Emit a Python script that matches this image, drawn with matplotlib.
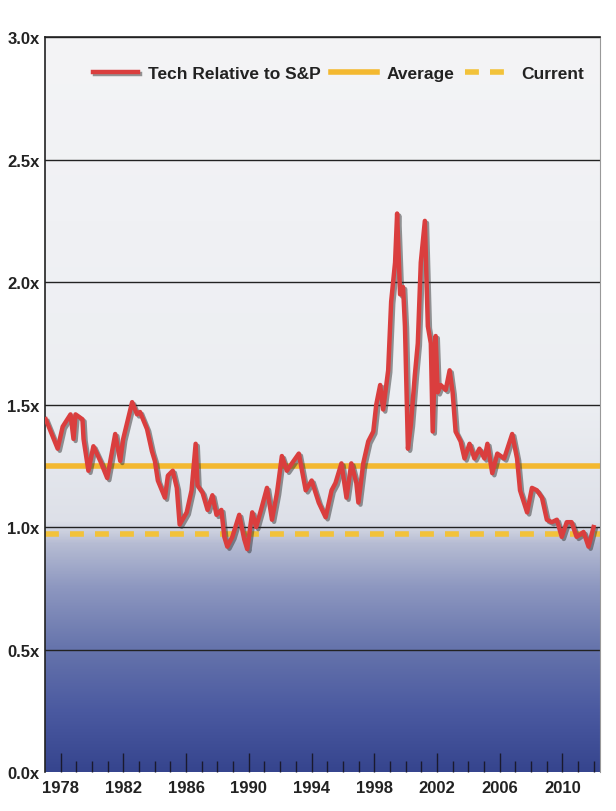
import numpy as np
import matplotlib
matplotlib.use("Agg")
import matplotlib.pyplot as plt
import matplotlib.patheffects as pe
from matplotlib.colors import LinearSegmentedColormap

# tech sector relative to S&P 500
years = [1977.05, 1977.81, 1978.13, 1978.63, 1978.82, 1978.95, 1979.39, 1979.46, 1979.77, 1980.09,
         1980.53, 1980.97, 1981.48, 1981.80, 1981.99, 1982.56, 1982.87, 1983.06, 1983.51, 1983.82,
         1984.01, 1984.20, 1984.65, 1984.84, 1985.15, 1985.41, 1985.59, 1986.04, 1986.35, 1986.61,
         1986.73, 1987.05, 1987.37, 1987.68, 1987.94, 1988.25, 1988.44, 1988.63, 1988.95, 1989.39,
         1989.71, 1989.90, 1990.22, 1990.47, 1990.78, 1991.16, 1991.48, 1991.80, 1992.11, 1992.43,
         1992.75, 1993.19, 1993.63, 1994.01, 1994.46, 1994.90, 1995.28, 1995.53, 1995.91, 1996.23,
         1996.54, 1996.86, 1996.99, 1997.30, 1997.62, 1997.94, 1998.13, 1998.38, 1998.57, 1998.89,
         1999.08, 1999.33, 1999.46, 1999.65, 1999.84, 1999.96, 2000.15, 2000.34, 2000.59, 2000.78,
         2000.97, 2001.23, 2001.42, 2001.61, 2001.73, 2001.92, 2002.05, 2002.24, 2002.56, 2002.81,
         2003.00, 2003.19, 2003.51, 2003.76, 2004.08, 2004.39, 2004.71, 2005.03, 2005.22, 2005.53,
         2005.85, 2006.29, 2006.80, 2007.11, 2007.30, 2007.75, 2008.06, 2008.38, 2008.70, 2009.01,
         2009.33, 2009.65, 2009.96, 2010.28, 2010.59, 2010.91, 2011.35, 2011.67, 2011.99]
tech_rel = [1.44, 1.32, 1.41, 1.46, 1.36, 1.46, 1.44, 1.36, 1.23, 1.33,
            1.27, 1.20, 1.38, 1.27, 1.36, 1.51, 1.46, 1.47, 1.40, 1.31,
            1.27, 1.19, 1.12, 1.21, 1.23, 1.16, 1.01, 1.06, 1.15, 1.34,
            1.17, 1.14, 1.07, 1.13, 1.05, 1.07, 0.96, 0.92, 0.96, 1.05,
            0.95, 0.91, 1.06, 1.00, 1.07, 1.16, 1.03, 1.14, 1.29, 1.23,
            1.26, 1.30, 1.15, 1.19, 1.10, 1.04, 1.15, 1.18, 1.26, 1.12,
            1.26, 1.18, 1.10, 1.26, 1.35, 1.39, 1.50, 1.58, 1.48, 1.64,
            1.92, 2.08, 2.28, 1.95, 1.98, 1.82, 1.32, 1.42, 1.62, 1.75,
            2.08, 2.25, 1.82, 1.75, 1.39, 1.78, 1.55, 1.58, 1.56, 1.64,
            1.55, 1.39, 1.35, 1.28, 1.34, 1.28, 1.32, 1.28, 1.34, 1.22,
            1.30, 1.28, 1.38, 1.28, 1.15, 1.06, 1.16, 1.15, 1.12, 1.03,
            1.02, 1.03, 0.96, 1.02, 1.02, 0.96, 0.98, 0.92, 1.00]
average = 1.25
current = 0.97

y_ticks = [0.0, 0.5, 1.0, 1.5, 2.0, 2.5, 3.0]
y_labels = ["0.0x", "0.5x", "1.0x", "1.5x", "2.0x", "2.5x", "3.0x"]
x_ticks = [1978, 1982, 1986, 1990, 1994, 1998, 2002, 2006, 2010]

font = ["Liberation Sans", "DejaVu Sans"]

fig = plt.figure(figsize=(6.16, 8.12), dpi=100)
fig.patch.set_facecolor("white")
ax = fig.add_axes([0.073, 0.048, 0.901, 0.905])

# background: light grey on top fading into blue at the bottom
bg = LinearSegmentedColormap.from_list(
    "bg", [(0.0, "#36458e"), (0.08, "#4a59a0"), (0.167, "#6674ac"), (0.25, "#8d97c0"),
           (0.31, "#b6bcd3"), (0.34, "#dde0e8"), (0.5, "#eceef2"), (1.0, "#f4f4f6")])
grad = np.linspace(0, 1, 256).reshape(-1, 1)
ax.imshow(grad, cmap=bg, aspect="auto", extent=[0, 1, 0, 1],
          transform=ax.transAxes, origin="lower", zorder=0)

for v in y_ticks[1:]:
    ax.axhline(v, color="#222222", lw=1.0, zorder=1)

ax.axhline(average, color="#f3b830", lw=4, zorder=2, label="Average")
ax.axhline(current, color="#f2c23a", lw=4, ls=(0, (2.5, 2)), zorder=2, label="Current")
ax.plot(years, tech_rel, color="#da3e3e", lw=3.2, zorder=3, label="Tech Relative to S&P",
        path_effects=[pe.SimpleLineShadow(offset=(1.5, -1.5), shadow_color="#333333", alpha=0.5),
                      pe.Normal()])

ax.set_xlim(1977.0, 2012.4)
ax.set_ylim(0, 3.0)
ax.set_yticks(y_ticks)
ax.set_yticklabels(y_labels)
ax.set_xticks(x_ticks)
ax.set_xticks(range(1978, 2013), minor=True)
ax.tick_params(axis="y", length=0, pad=4)
ax.tick_params(axis="x", which="major", direction="in", length=14, width=1, color="#1a1a2e", pad=6)
ax.tick_params(axis="x", which="minor", direction="in", length=8, width=1, color="#1a1a2e")
for lab in ax.get_xticklabels() + ax.get_yticklabels():
    lab.set_fontfamily(font)
    lab.set_fontweight("bold")
    lab.set_fontsize(12)
    lab.set_color("#222222")

for s in ["top", "left"]:
    ax.spines[s].set_color("#222222")
    ax.spines[s].set_linewidth(1.2)
ax.spines["right"].set_color("#999999")
ax.spines["bottom"].set_visible(False)

h, l = ax.get_legend_handles_labels()
order = [2, 0, 1]
leg = ax.legend([h[i] for i in order], [l[i] for i in order], loc="center left",
                bbox_to_anchor=(0.086, 0.95), ncol=3, frameon=False, handlelength=2.6,
                columnspacing=0.6, handletextpad=0.6, borderpad=0, borderaxespad=0,
                prop={"family": font, "weight": "bold", "size": 12.5})
for t in leg.get_texts():
    t.set_color("#222222")

fig.savefig("out.png", dpi=100)
